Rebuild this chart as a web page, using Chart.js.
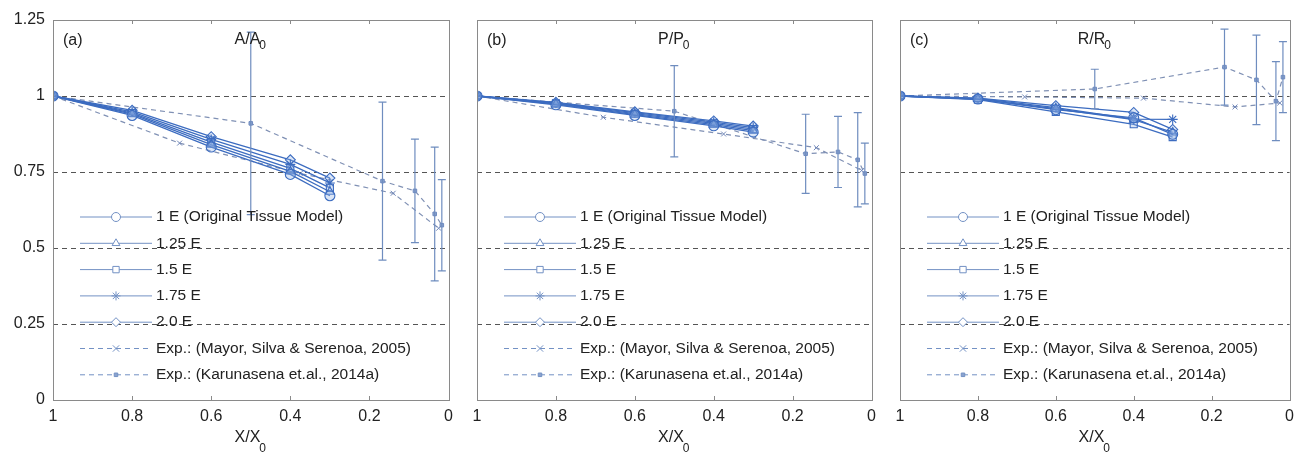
<!DOCTYPE html>
<html>
<head>
<meta charset="utf-8">
<script src="https://cdn.jsdelivr.net/npm/chart.js@4.4.1/dist/chart.umd.min.js"></script>
<style>
html, body { margin: 0; padding: 0; background: #fff; }
body { width: 1301px; height: 457px; position: relative; overflow: hidden; }
.panel { position: absolute; top: 0; height: 457px; }
</style>
</head>
<body>
<div class="panel" style="left:0;width:460px"><canvas id="chartA"></canvas></div>
<div class="panel" style="left:460px;width:423px"><canvas id="chartB"></canvas></div>
<div class="panel" style="left:883px;width:418px"><canvas id="chartC"></canvas></div>
<script>
// x positions (X/X0) of the simulated cuts and of the two experiments
const simX = [1, 0.8, 0.6, 0.4, 0.3];
const mayorX = [1, 0.68, 0.375, 0.14, 0.025];
const karuX = [1, 0.5, 0.167, 0.085, 0.035, 0.017];

const simLabels = ['1 E (Original Tissue Model)', '1.25 E', '1.5 E', '1.75 E', '2.0 E'];
const simMarkers = ['circle', 'triangle', 'rect', 'star', 'rectRot'];
const mayorLabel = 'Exp.: (Mayor, Silva & Serenoa, 2005)';
const karuLabel = 'Exp.: (Karunasena et.al., 2014a)';

const xTicks = [1, 0.8, 0.6, 0.4, 0.2, 0];
const yTicks = [0, 0.25, 0.5, 0.75, 1, 1.25];
const gridTicks = [0.25, 0.5, 0.75, 1];

// (a) A/A0
const areaSim = [
    [1, 0.936, 0.832, 0.742, 0.672],
    [1, 0.940, 0.840, 0.752, 0.685],
    [1, 0.944, 0.848, 0.762, 0.698],
    [1, 0.948, 0.857, 0.775, 0.714],
    [1, 0.953, 0.866, 0.790, 0.730]
];
const areaMayor = [1, 0.845, 0.745, 0.68, 0.565];
const areaKaru = [1, 0.91, 0.72, 0.688, 0.612, 0.575];
const areaKaruErr = [0, 0.3, 0.26, 0.17, 0.22, 0.15];

// (b) P/P0
const perimSim = [
    [1, 0.971, 0.936, 0.902, 0.881],
    [1, 0.973, 0.939, 0.906, 0.886],
    [1, 0.975, 0.942, 0.910, 0.891],
    [1, 0.977, 0.945, 0.914, 0.896],
    [1, 0.979, 0.948, 0.918, 0.901]
];
const perimMayor = [1, 0.93, 0.875, 0.83, 0.755];
const perimKaru = [1, 0.95, 0.81, 0.816, 0.79, 0.745];
const perimKaruErr = [0, 0.15, 0.13, 0.117, 0.155, 0.1];

// (c) R/R0
const radiusSim = [
    [1, 0.99, 0.955, 0.928, 0.874],
    [1, 0.99, 0.958, 0.922, 0.88],
    [1, 0.988, 0.948, 0.907, 0.865],
    [1, 0.992, 0.962, 0.924, 0.923],
    [1, 0.993, 0.968, 0.946, 0.89]
];
const radiusMayor = [1, 0.997, 0.993, 0.964, 0.977];
const radiusKaru = [1, 1.023, 1.095, 1.053, 0.983, 1.062];
const radiusKaruErr = [0, 0.065, 0.125, 0.147, 0.13, 0.117];

const FONT = "'Liberation Sans', Arial, sans-serif";
const simColor = '#3c6cc0';
const expColor = '#7f90b4';
const errColor = '#6f8dbf';
const legendLine = '#7391c4';

Chart.defaults.font.family = FONT;
Chart.defaults.color = '#222';

function toPoints(xs, ys) {
    return xs.map((x, i) => ({ x: x, y: ys[i] }));
}

// text with a lowered "0" like the matlab labels
function drawSub(ctx, main, sub, cx, cy, size, drop) {
    const subSize = Math.round(size * 0.75);
    ctx.font = size + 'px ' + FONT;
    const w1 = ctx.measureText(main).width;
    ctx.font = subSize + 'px ' + FONT;
    const w2 = ctx.measureText(sub).width;
    const x = cx - (w1 + w2) / 2;
    ctx.textAlign = 'left';
    ctx.textBaseline = 'middle';
    ctx.fillStyle = '#222';
    ctx.font = size + 'px ' + FONT;
    ctx.fillText(main, x, cy);
    ctx.font = subSize + 'px ' + FONT;
    ctx.fillText(sub, x + w1 - 1, cy + drop);
}

// box, inner tick marks and dashed grid
const framePlugin = {
    id: 'frame',
    beforeDatasetsDraw(chart) {
        const { ctx, chartArea: a, scales } = chart;
        ctx.save();
        ctx.strokeStyle = '#555';
        ctx.lineWidth = 1;
        ctx.setLineDash([5, 4]);
        gridTicks.forEach(v => {
            const y = Math.round(scales.y.getPixelForValue(v)) + 0.5;
            ctx.beginPath();
            ctx.moveTo(a.left, y);
            ctx.lineTo(a.right, y);
            ctx.stroke();
        });
        ctx.restore();
    },
    afterDraw(chart) {
        const { ctx, chartArea: a, scales } = chart;
        ctx.save();
        ctx.strokeStyle = '#8a8a8a';
        ctx.lineWidth = 1;
        ctx.strokeRect(Math.round(a.left) + 0.5, Math.round(a.top) + 0.5,
            Math.round(a.right - a.left), Math.round(a.bottom - a.top));
        xTicks.slice(1, -1).forEach(v => {
            const x = Math.round(scales.x.getPixelForValue(v)) + 0.5;
            ctx.beginPath();
            ctx.moveTo(x, a.top);
            ctx.lineTo(x, a.top + 4);
            ctx.moveTo(x, a.bottom);
            ctx.lineTo(x, a.bottom - 4);
            ctx.stroke();
        });
        ctx.restore();
    }
};

// vertical error bars for datasets carrying an errors array
const errorBarPlugin = {
    id: 'errorBars',
    afterDatasetsDraw(chart) {
        const { ctx, scales } = chart;
        ctx.save();
        ctx.strokeStyle = errColor;
        ctx.lineWidth = 1.2;
        chart.data.datasets.forEach(ds => {
            if (!ds.errors) return;
            ds.data.forEach((p, i) => {
                const e = ds.errors[i];
                if (!e) return;
                const x = scales.x.getPixelForValue(p.x);
                const yTop = scales.y.getPixelForValue(p.y + e);
                const yBot = scales.y.getPixelForValue(p.y - e);
                ctx.beginPath();
                ctx.moveTo(x, yTop);
                ctx.lineTo(x, yBot);
                ctx.moveTo(x - 4, yTop);
                ctx.lineTo(x + 4, yTop);
                ctx.moveTo(x - 4, yBot);
                ctx.lineTo(x + 4, yBot);
                ctx.stroke();
            });
        });
        ctx.restore();
    }
};

// legend drawn inside the plot, lower left
const insideLegend = {
    id: 'insideLegend',
    afterDraw(chart) {
        const { ctx, chartArea: a } = chart;
        const x0 = a.left + 27, x1 = a.left + 99, xm = (x0 + x1) / 2;
        ctx.save();
        chart.data.datasets.forEach((ds, i) => {
            const y = a.top + 197 + i * 26.3;
            ctx.strokeStyle = legendLine;
            ctx.lineWidth = 1;
            ctx.setLineDash(ds.borderDash || []);
            ctx.beginPath();
            ctx.moveTo(x0, y);
            ctx.lineTo(x1, y);
            ctx.stroke();
            ctx.setLineDash([]);
            ctx.fillStyle = ds.errors ? '#8aa3cf' : '#fff';
            Chart.helpers.drawPoint(ctx, {
                pointStyle: ds.pointStyle,
                radius: ds.errors ? 2.5 : 4.5,
                borderWidth: 1,
                rotation: 0
            }, xm, y);
            ctx.fillStyle = '#222';
            ctx.font = '15.5px ' + FONT;
            ctx.textAlign = 'left';
            ctx.textBaseline = 'middle';
            ctx.fillText(ds.label, x1 + 4, y);
        });
        ctx.restore();
    }
};

function makePanel(id, letter, titleMain, sim, mayor, karu, karuErr, showY, rightPad) {
    const datasets = sim.map((row, i) => ({
        label: simLabels[i],
        data: toPoints(simX, row),
        showLine: true,
        borderColor: simColor,
        borderWidth: 1.3,
        pointStyle: simMarkers[i],
        pointRadius: 5,
        pointBorderColor: simColor,
        pointBorderWidth: 1.1,
        pointBackgroundColor: 'rgba(150,180,230,0.35)'
    }));
    datasets.push({
        label: mayorLabel,
        data: toPoints(mayorX, mayor),
        showLine: true,
        borderColor: expColor,
        borderWidth: 1.2,
        borderDash: [5, 4],
        pointStyle: 'crossRot',
        pointRadius: 3.5,
        pointBorderColor: '#6f86b8',
        pointBorderWidth: 1
    });
    datasets.push({
        label: karuLabel,
        data: toPoints(karuX, karu),
        errors: karuErr,
        showLine: true,
        borderColor: expColor,
        borderWidth: 1.2,
        borderDash: [5, 4],
        pointStyle: 'rect',
        pointRadius: 2.5,
        pointBorderColor: '#6f8bc0',
        pointBackgroundColor: '#8aa3cf',
        pointBorderWidth: 1
    });

    const titles = {
        id: 'titles',
        afterDraw(chart) {
            const { ctx, chartArea: a } = chart;
            const cx = (a.left + a.right) / 2;
            ctx.save();
            ctx.fillStyle = '#222';
            ctx.font = '16px ' + FONT;
            ctx.textAlign = 'left';
            ctx.textBaseline = 'middle';
            ctx.fillText(letter, a.left + 10, a.top + 21);
            drawSub(ctx, titleMain, '0', cx, a.top + 20, 16, 6);
            drawSub(ctx, 'X/X', '0', cx, a.bottom + 38, 16, 11);
            ctx.restore();
        }
    };

    return new Chart(document.getElementById(id), {
        type: 'scatter',
        data: { datasets: datasets },
        plugins: [framePlugin, errorBarPlugin, insideLegend, titles],
        options: {
            responsive: true,
            maintainAspectRatio: false,
            animation: false,
            layout: { padding: { top: 20, right: rightPad, left: 0, bottom: 0 } },
            plugins: {
                legend: { display: false },
                tooltip: { enabled: false }
            },
            scales: {
                x: {
                    type: 'linear',
                    reverse: true,
                    min: 0,
                    max: 1,
                    afterBuildTicks: s => { s.ticks = xTicks.map(v => ({ value: v })); },
                    afterFit: s => { s.height = 57; },
                    grid: { display: false, drawTicks: false },
                    border: { display: false },
                    ticks: {
                        padding: 7,
                        color: '#222',
                        font: { size: 16 },
                        maxRotation: 0,
                        callback: v => String(v)
                    }
                },
                y: {
                    min: 0,
                    max: 1.25,
                    afterBuildTicks: s => { s.ticks = yTicks.map(v => ({ value: v })); },
                    afterFit: s => { s.width = showY ? 53 : 17; },
                    grid: { display: false, drawTicks: false },
                    border: { display: false },
                    ticks: {
                        display: showY,
                        padding: 8,
                        color: '#222',
                        font: { size: 16 },
                        callback: v => String(v)
                    }
                }
            }
        }
    });
}

makePanel('chartA', '(a)', 'A/A', areaSim, areaMayor, areaKaru, areaKaruErr, true, 10);
makePanel('chartB', '(b)', 'P/P', perimSim, perimMayor, perimKaru, perimKaruErr, false, 10);
makePanel('chartC', '(c)', 'R/R', radiusSim, radiusMayor, radiusKaru, radiusKaruErr, false, 5);
</script>
</body>
</html>
